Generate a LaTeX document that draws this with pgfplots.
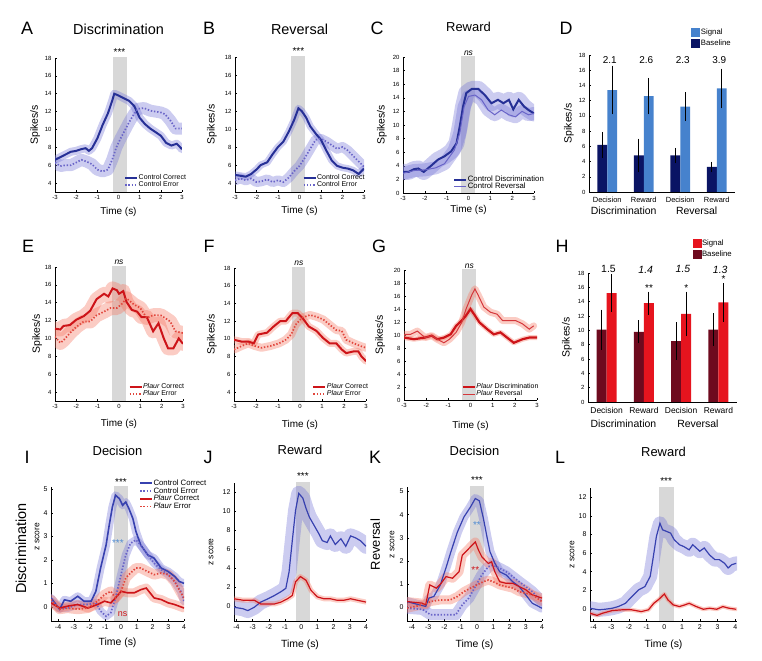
\documentclass[border=0pt]{standalone}
\usepackage{fontspec}
\setmainfont{Liberation Sans}
\usepackage{pgfplots}
\usepackage{pgfplotstable}
\pgfplotsset{compat=1.18}

\definecolor{cblue}{RGB}{38,48,150}
\definecolor{cbluez}{RGB}{55,65,175}
\definecolor{cdot}{RGB}{105,100,200}
\definecolor{cband}{RGB}{120,120,215}
\definecolor{pred}{RGB}{205,20,25}
\definecolor{pdot}{RGB}{225,70,60}
\definecolor{pband}{RGB}{245,120,100}
\definecolor{shadegray}{RGB}{216,216,216}
\definecolor{sigblue}{RGB}{70,130,205}
\definecolor{basenavy}{RGB}{10,20,100}
\definecolor{sigred}{RGB}{230,20,30}
\definecolor{basered}{RGB}{110,10,30}
\definecolor{starblue}{RGB}{80,140,210}

\pgfplotsset{
  panel/.style={scale only axis, anchor=south west, axis lines=left,
    axis line style={-, line width=0.6pt},
    tick align=inside, major tick length=2bp, tick style={black, line width=0.5pt},
    tick label style={font=\fontsize{6}{7}\selectfont},
    /pgf/number format/assume math mode=true,
    xlabel style={font=\fontsize{10}{11}\selectfont, at={(axis description cs:0.5,0)}, anchor=center},
    ylabel style={font=\fontsize{10.5}{11}\selectfont, anchor=center},
    title style={font=\fontsize{13}{14}\selectfont, at={(axis description cs:0.5,1)}, anchor=center},
    clip mode=individual,
    legend style={draw=none, fill=none, font=\fontsize{7}{7.5}\selectfont, nodes={inner sep=0.5pt}, row sep=-0.5pt, legend cell align=left},
    legend image code/.code={\draw[##1] (0bp,0bp) -- (12bp,0bp);},
  },
  ylab/.style={ylabel style={at={(axis description cs:#1,0.5)}}},
  ts/.style={xmin=-3, xmax=3, xtick={-3,...,3}, xlabel={Time (s)}},
  zs/.style={xtick={-4,...,4}, xlabel={Time (s)}, tick label style={font=\fontsize{7}{8}\selectfont},
    xlabel style={font=\fontsize{10.5}{11}\selectfont}, ylabel style={font=\fontsize{8.5}{9}\selectfont}},
  band/.style={line width=#1, draw opacity=0.38, forget plot, line join=round, line cap=round},
  dotsty/.style={dash pattern=on 1.4bp off 1.8bp},
}
\newcommand{\epoch}[2]{\addplot[fill=shadegray, draw=none, forget plot] coordinates {(#1,-100) (#2,-100) (#2,100) (#1,100)};}
\newcommand{\stars}[3]{\node[font=\fontsize{10}{10}\selectfont, anchor=south, inner sep=0pt] at (axis cs:#1,#2) {#3};}

% ---------------- data ----------------
\pgfplotstableread[row sep=\\]{x y\\ -3 6.6\\ -2.75 6.9\\ -2.5 7.2\\ -2.25 7.5\\ -2 7.6\\ -1.75 7.8\\ -1.55 7.9\\ -1.4 7.6\\ -1.25 7.9\\ -1 9.0\\ -0.75 10.5\\ -0.5 11.8\\ -0.3 13.2\\ -0.2 14.0\\ 0 13.8\\ 0.25 13.5\\ 0.5 13.2\\ 0.75 12.6\\ 1 11.3\\ 1.25 10.6\\ 1.5 10.1\\ 1.75 9.7\\ 2 9.3\\ 2.25 8.5\\ 2.5 8.2\\ 2.75 8.4\\ 3 7.8\\}\Acor
\pgfplotstableread[row sep=\\]{x y\\ -3 6.3\\ -2.75 5.9\\ -2.5 6.0\\ -2.25 6.0\\ -2 6.3\\ -1.75 6.6\\ -1.5 6.4\\ -1.25 6.1\\ -1 5.5\\ -0.75 5.3\\ -0.5 5.5\\ -0.3 6.6\\ -0.1 8.0\\ 0.1 9.0\\ 0.3 9.9\\ 0.5 10.8\\ 0.7 11.6\\ 0.9 12.3\\ 1.2 12.4\\ 1.5 12.1\\ 1.75 12.0\\ 2 11.9\\ 2.2 11.7\\ 2.45 11.0\\ 2.7 10.1\\ 3 10.1\\}\Aerr
\pgfplotstableread[row sep=\\]{x y\\ -3 4.9\\ -2.75 4.8\\ -2.5 4.7\\ -2.25 5.0\\ -2 5.5\\ -1.8 6.0\\ -1.5 6.3\\ -1.25 7.2\\ -1 8.0\\ -0.75 8.6\\ -0.5 9.7\\ -0.25 11.0\\ -0.05 12.3\\ 0.1 12.0\\ 0.3 11.3\\ 0.5 10.3\\ 0.75 9.5\\ 1 8.8\\ 1.25 7.6\\ 1.5 6.5\\ 1.75 5.9\\ 2 5.7\\ 2.25 5.6\\ 2.5 5.4\\ 2.75 5.0\\ 3 5.6\\}\Bcor
\pgfplotstableread[row sep=\\]{x y\\ -3 4.3\\ -2.75 4.5\\ -2.5 4.3\\ -2.25 4.5\\ -2 4.1\\ -1.75 4.2\\ -1.5 4.4\\ -1.25 4.1\\ -1 4.3\\ -0.75 4.1\\ -0.5 4.6\\ -0.25 5.3\\ 0 5.9\\ 0.25 6.8\\ 0.5 7.8\\ 0.75 8.8\\ 1 8.9\\ 1.25 8.6\\ 1.5 8.2\\ 1.75 7.8\\ 2 8.0\\ 2.25 7.6\\ 2.5 7.0\\ 2.75 6.4\\ 3 5.8\\}\Berr
\pgfplotstableread[row sep=\\]{x y\\ -3 3.1\\ -2.75 3.1\\ -2.5 3.5\\ -2.3 3.6\\ -2.05 3.1\\ -1.75 3.9\\ -1.4 4.9\\ -1.1 5.4\\ -0.8 6.1\\ -0.55 7.3\\ -0.4 9.8\\ -0.25 12.7\\ -0.1 14.7\\ 0.15 15.3\\ 0.45 15.3\\ 0.75 14.4\\ 1.05 13.2\\ 1.35 13.7\\ 1.6 13.2\\ 1.85 13.7\\ 2.05 12.3\\ 2.3 13.7\\ 2.55 12.7\\ 2.75 12.2\\ 3 11.7\\}\Cdis
\pgfplotstableread[row sep=\\]{x y\\ -3 2.9\\ -2.5 3.3\\ -2 3.4\\ -1.5 3.7\\ -1.1 4.3\\ -0.65 6.3\\ -0.4 8.8\\ -0.2 12.7\\ 0 14.2\\ 0.3 14.4\\ 0.6 13.7\\ 0.9 12.2\\ 1.2 11.5\\ 1.5 12.2\\ 1.85 11.5\\ 2.15 11.2\\ 2.45 12.0\\ 2.75 11.5\\ 3 11.7\\}\Crev
\pgfplotstableread[row sep=\\]{x y\\ -3 11.1\\ -2.75 11.0\\ -2.6 11.4\\ -2.3 11.5\\ -2 12.1\\ -1.65 12.5\\ -1.35 13.1\\ -1.05 14.4\\ -0.7 15.0\\ -0.5 14.7\\ -0.3 15.6\\ -0.1 15.4\\ 0 15.0\\ 0.2 15.3\\ 0.35 14.1\\ 0.6 13.2\\ 0.85 13.0\\ 1.05 12.4\\ 1.3 12.4\\ 1.6 10.8\\ 1.85 11.7\\ 2.1 10.0\\ 2.3 8.9\\ 2.55 8.9\\ 2.8 10.0\\ 3 9.4\\}\Ecor
\pgfplotstableread[row sep=\\]{x y\\ -3 10.2\\ -2.75 9.5\\ -2.6 9.8\\ -2.3 10.6\\ -2 11.3\\ -1.65 11.9\\ -1.35 11.9\\ -1.05 12.6\\ -0.7 13.0\\ -0.4 13.4\\ -0.1 13.4\\ 0.15 13.9\\ 0.35 14.5\\ 0.7 13.8\\ 1.0 13.4\\ 1.3 12.3\\ 1.6 12.6\\ 1.95 12.6\\ 2.15 12.3\\ 2.4 11.9\\ 2.65 10.8\\ 3 10.6\\}\Eerr
\pgfplotstableread[row sep=\\]{x y\\ -3 9.9\\ -2.65 9.7\\ -2.35 9.7\\ -2.1 9.5\\ -1.9 10.5\\ -1.5 10.7\\ -1.2 11.4\\ -0.9 12.0\\ -0.65 12.0\\ -0.35 12.9\\ -0.1 12.9\\ 0.1 12.4\\ 0.4 11.4\\ 0.75 10.9\\ 1.05 10.1\\ 1.35 9.5\\ 1.65 9.5\\ 1.9 8.8\\ 2.1 8.4\\ 2.45 8.6\\ 2.65 8.6\\ 2.8 8.0\\ 3 7.5\\}\Fcor
\pgfplotstableread[row sep=\\]{x y\\ -3 8.8\\ -2.65 9.2\\ -2.35 9.5\\ -2.05 9.2\\ -1.75 9.0\\ -1.35 9.2\\ -0.95 9.5\\ -0.65 9.9\\ -0.4 10.5\\ -0.2 11.6\\ 0.1 12.4\\ 0.45 12.7\\ 0.75 12.5\\ 1.05 12.2\\ 1.35 11.6\\ 1.65 11.0\\ 1.9 10.9\\ 2.1 9.9\\ 2.45 9.5\\ 2.75 9.2\\ 3 9.0\\}\Ferr
\pgfplotstableread[row sep=\\]{x y\\ -3 9.6\\ -2.55 9.35\\ -2.05 9.6\\ -1.75 9.9\\ -1.5 9.35\\ -1.2 9.6\\ -0.9 10.1\\ -0.65 11.4\\ -0.4 12.2\\ -0.2 13.0\\ 0 14.0\\ 0.2 13.0\\ 0.4 11.95\\ 0.75 10.9\\ 1.05 10.1\\ 1.35 10.4\\ 1.65 9.6\\ 1.95 8.8\\ 2.35 9.35\\ 2.65 9.6\\ 3 9.6\\}\Gdis
\pgfplotstableread[row sep=\\]{x y\\ -3 10.1\\ -2.7 10.1\\ -2.4 10.6\\ -2.05 9.6\\ -1.75 9.9\\ -1.5 9.35\\ -1.2 8.8\\ -0.95 9.35\\ -0.65 10.4\\ -0.4 11.9\\ -0.2 14.0\\ 0.05 16.1\\ 0.2 17.1\\ 0.35 16.1\\ 0.6 14.3\\ 0.9 13.5\\ 1.2 13.2\\ 1.45 12.2\\ 1.75 12.2\\ 2.05 12.2\\ 2.35 11.7\\ 2.65 10.9\\ 2.85 11.4\\}\Grev
\pgfplotstableread[row sep=\\]{x y\\ -4.45 0.38\\ -3.9 -0.1\\ -3.6 0.3\\ -3.2 0.24\\ -2.75 0.45\\ -2.35 0.24\\ -1.9 0.24\\ -1.6 0.66\\ -1.3 1.65\\ -0.95 2.63\\ -0.75 3.48\\ -0.55 4.25\\ -0.35 4.75\\ -0.1 4.6\\ 0.1 4.32\\ 0.3 4.46\\ 0.5 4.18\\ 0.75 3.76\\ 0.95 3.2\\ 1.25 2.63\\ 1.7 2.21\\ 2.1 2.07\\ 2.55 1.65\\ 3 1.5\\ 3.4 1.3\\ 3.7 1.08\\ 4 1.0\\}\Icc
\pgfplotstableread[row sep=\\]{x y\\ -4.45 0.24\\ -3.9 -0.05\\ -3.4 -0.05\\ -2.75 0.1\\ -2.1 0.1\\ -1.6 0.17\\ -1.3 -0.18\\ -0.95 -0.4\\ -0.65 -0.25\\ -0.35 0.38\\ 0 1.37\\ 0.3 2.21\\ 0.6 2.7\\ 0.95 2.85\\ 1.25 2.63\\ 1.7 2.21\\ 2.1 1.86\\ 2.55 1.58\\ 3 1.37\\ 3.4 1.08\\ 3.8 0.66\\ 4 0.24\\}\Ice
\pgfplotstableread[row sep=\\]{x y\\ -4.45 0.17\\ -3.9 -0.05\\ -3.4 0.03\\ -2.75 0.1\\ -2.1 -0.05\\ -1.5 0.1\\ -1.05 0.24\\ -0.65 0.17\\ -0.35 0.38\\ 0 0.66\\ 0.4 0.6\\ 0.85 0.6\\ 1.25 0.73\\ 1.6 0.8\\ 2.1 0.38\\ 2.55 0.31\\ 3 0.17\\ 3.4 0.1\\ 4 -0.05\\}\Ipc
\pgfplotstableread[row sep=\\]{x y\\ -4.45 0.31\\ -3.9 -0.1\\ -3.4 -0.05\\ -2.75 -0.1\\ -2.1 -0.05\\ -1.5 0.24\\ -1.05 0.52\\ -0.65 0.66\\ -0.35 0.38\\ 0 0.66\\ 0.3 1.23\\ 0.6 1.44\\ 0.95 1.65\\ 1.25 1.65\\ 1.7 1.5\\ 2.1 1.37\\ 2.55 1.44\\ 3 1.37\\ 3.4 1.08\\ 3.8 0.6\\ 4 0.38\\}\Ipe
\pgfplotstableread[row sep=\\]{x y\\ -4.15 -0.15\\ -3.6 -0.3\\ -3.3 -0.5\\ -2.9 -0.15\\ -2.5 0.4\\ -2.05 0.75\\ -1.65 1.1\\ -1.25 1.5\\ -0.95 1.85\\ -0.75 3.6\\ -0.55 6.9\\ -0.35 10.1\\ -0.15 11.9\\ 0.1 11.4\\ 0.3 10.3\\ 0.5 9.4\\ 0.8 8.5\\ 1.1 7.6\\ 1.3 6.9\\ 1.6 6.7\\ 1.8 7.4\\ 2.1 6.5\\ 2.45 7.1\\ 2.75 6.3\\ 3.05 7.4\\ 3.35 7.2\\ 3.65 6.9\\ 4 6.3\\}\Jb
\pgfplotstableread[row sep=\\]{x y\\ -4.15 0.75\\ -3.6 0.6\\ -3.3 0.6\\ -2.9 0.6\\ -2.5 0.2\\ -2.05 0.2\\ -1.65 0.2\\ -1.25 0.4\\ -0.85 0.75\\ -0.55 1.1\\ -0.35 2.55\\ -0.05 3.1\\ 0.3 2.7\\ 0.6 1.65\\ 1.0 0.95\\ 1.4 0.75\\ 1.8 0.75\\ 2.2 0.6\\ 2.65 0.6\\ 3.05 0.75\\ 3.45 0.6\\ 4 0.4\\}\Jr
\pgfplotstableread[row sep=\\]{x y\\ -4.3 0.24\\ -3.55 0.1\\ -3.15 0.03\\ -2.95 0.39\\ -2.65 0.46\\ -2.25 0.96\\ -1.85 1.82\\ -1.6 2.4\\ -1.2 3.25\\ -0.8 3.9\\ -0.4 4.33\\ -0.1 4.7\\ 0.15 4.6\\ 0.4 3.83\\ 0.6 3.1\\ 0.8 2.4\\ 1.1 1.9\\ 1.4 1.53\\ 1.8 1.39\\ 2.2 1.1\\ 2.6 0.89\\ 3.0 0.53\\ 3.4 0.17\\ 4 -0.05\\}\Kcc
\pgfplotstableread[row sep=\\]{x y\\ -4.3 -0.05\\ -3.35 -0.1\\ -2.85 -0.33\\ -2.25 -0.33\\ -1.65 -0.33\\ -1.3 -0.33\\ -0.9 0.1\\ -0.5 0.39\\ -0.1 0.89\\ 0.3 1.39\\ 0.7 1.75\\ 1.0 1.82\\ 1.4 1.68\\ 1.8 1.53\\ 2.2 1.32\\ 2.6 1.1\\ 3.0 0.89\\ 3.4 0.67\\ 4 0.24\\}\Kce
\pgfplotstableread[row sep=\\]{x y\\ -4.3 0.24\\ -3.35 0.17\\ -3.15 0.1\\ -2.9 0.96\\ -2.5 0.82\\ -2.2 1.03\\ -1.9 1.32\\ -1.5 1.25\\ -1.1 1.53\\ -0.9 2.25\\ -0.6 2.46\\ -0.3 2.68\\ -0.1 2.82\\ 0.1 2.46\\ 0.3 2.18\\ 0.5 2.03\\ 0.7 1.89\\ 0.9 1.96\\ 1.1 1.53\\ 1.4 1.1\\ 1.8 1.03\\ 2.2 1.03\\ 2.6 0.89\\ 3.0 0.75\\ 3.4 0.53\\ 4 0.39\\}\Kpc
\pgfplotstableread[row sep=\\]{x y\\ -4.3 -0.05\\ -3.35 0.1\\ -2.85 0.24\\ -2.25 0.31\\ -1.65 0.31\\ -1.2 0.46\\ -0.8 0.67\\ -0.4 0.82\\ 0.0 0.96\\ 0.4 1.1\\ 0.7 1.17\\ 1.0 1.1\\ 1.4 0.96\\ 1.8 0.89\\ 2.2 0.82\\ 2.6 0.67\\ 3.0 0.6\\ 3.4 0.53\\ 4 0.24\\}\Kpe
\pgfplotstableread[row sep=\\]{x y\\ -4.2 0.07\\ -3.7 -0.1\\ -3.35 -0.04\\ -2.95 0.07\\ -2.6 0.25\\ -2.2 0.6\\ -1.85 1.3\\ -1.45 2.05\\ -1.1 2.4\\ -0.8 3.5\\ -0.65 5.3\\ -0.45 7.8\\ -0.25 9.2\\ -0.1 8.5\\ 0.1 8.35\\ 0.35 8.15\\ 0.55 7.45\\ 0.85 6.9\\ 1.1 6.7\\ 1.4 6.35\\ 1.6 6.9\\ 1.8 6.55\\ 2.0 6.2\\ 2.25 6.55\\ 2.55 5.8\\ 2.85 5.3\\ 3.1 5.3\\ 3.4 4.9\\ 3.6 4.4\\ 3.8 4.75\\ 4.05 4.9\\}\Lb
\pgfplotstableread[row sep=\\]{x y\\ -4.2 -0.47\\ -3.8 -0.7\\ -3.5 -0.47\\ -2.95 -0.18\\ -2.4 -0.1\\ -1.85 -0.1\\ -1.3 -0.29\\ -0.9 -0.1\\ -0.6 0.6\\ -0.35 0.97\\ 0 1.6\\ 0.2 0.97\\ 0.5 0.43\\ 0.85 0.25\\ 1.15 0.43\\ 1.4 0.6\\ 1.8 0.25\\ 2.2 -0.04\\ 2.55 0.07\\ 2.95 -0.04\\ 3.3 0.25\\ 3.65 0.07\\ 4.05 -0.04\\}\Lr

\begin{document}
\begin{tikzpicture}
\path[use as bounding box] (0,0) rectangle (762bp,661bp);

% panel letters
\begin{scope}[every node/.style={font=\fontsize{18}{18}\selectfont, inner sep=0pt}]
\node at (27bp,633bp) {A};
\node at (209bp,633bp) {B};
\node at (377bp,633bp) {C};
\node at (566bp,633bp) {D};
\node at (28bp,415bp) {E};
\node at (209bp,415bp) {F};
\node at (379bp,415bp) {G};
\node at (562bp,415bp) {H};
\node at (27bp,204bp) {I};
\node at (208bp,204bp) {J};
\node at (375bp,204bp) {K};
\node at (560bp,204bp) {L};
\end{scope}

% ---------- A ----------
\begin{axis}[panel, ts, at={(55bp,469bp)}, width=127bp, height=134bp, ymin=3, ymax=18, ytick={4,6,...,18},
  ylabel={Spikes/s}, ylab=-0.157, xlabel style={yshift=-20bp},
  title={Discrimination}, title style={yshift=23bp, font=\fontsize{14.5}{15}\selectfont},
  legend style={at={(axis description cs:0.52,0.01)}, anchor=south west}]
\epoch{-0.27}{0.38}
\addplot[cband, band=8bp] table {\Acor};
\addplot[cband, band=12bp] table {\Aerr};
\addplot[cblue, line width=2bp] table {\Acor};
\addplot[cdot, line width=1.7bp, dotsty] table {\Aerr};
\legend{Control Correct, Control Error}
\stars{0.05}{18.3}{***}
\end{axis}

% ---------- B ----------
\begin{axis}[panel, ts, at={(235bp,469bp)}, width=129bp, height=135bp, ymin=3, ymax=18, ytick={4,6,...,18},
  ylabel={Spikes/s}, ylab=-0.178, xlabel style={yshift=-19bp},
  title={Reversal}, title style={yshift=22bp, font=\fontsize{14.5}{15}\selectfont},
  legend style={at={(axis description cs:0.5,0.01)}, anchor=south west}]
\epoch{-0.38}{0.27}
\addplot[cband, band=7bp] table {\Bcor};
\addplot[cband, band=10bp] table {\Berr};
\addplot[cblue, line width=2bp] table {\Bcor};
\addplot[cdot, line width=1.7bp, dotsty] table {\Berr};
\legend{Control Correct, Control Error}
\stars{-0.05}{18.3}{***}
\end{axis}

% ---------- C ----------
\begin{axis}[panel, ts, at={(403bp,468bp)}, width=131bp, height=136bp, ymin=0, ymax=20, ytick={0,2,...,20},
  ylabel={Spikes/s}, ylab=-0.16, xlabel style={yshift=-17bp},
  title={Reward}, title style={yshift=24bp},
  legend style={at={(axis description cs:0.36,0.0)}, anchor=south west, font=\fontsize{7.8}{8}\selectfont, row sep=-1pt}]
\epoch{-0.33}{0.32}
\addplot[cband, band=16bp] table {\Cdis};
\addplot[cband, band=13bp] table {\Crev};
\addplot[cblue, line width=2bp] table {\Cdis};
\addplot[cdot, line width=1bp] table {\Crev};
\legend{Control Discrimination, Control Reversal}
\node[font=\fontsize{8.5}{9}\selectfont\itshape, anchor=south, inner sep=0pt] at (axis cs:0,20.2) {ns};
\end{axis}

% ---------- D ----------
\begin{axis}[panel, at={(589bp,469bp)}, width=146bp, height=137bp, xmin=0.5, xmax=4.5, ymin=0, ymax=18, ytick={0,2,...,18},
  xtick={1,2,3,4}, xticklabels={Decision,Reward,Decision,Reward}, xtick style={draw=none},
  xticklabel style={font=\fontsize{7.5}{8}\selectfont},
  ylabel={Spikes/s}, ylab=-0.137,
  ybar=0pt, bar width=0.27,
  error bars/y dir=both, error bars/y explicit, error bars/error mark=none,
  error bars/error bar style={black, line width=1.1bp},
  legend image code/.code={\fill[#1] (0bp,-4.5bp) rectangle (9bp,4.5bp);},
  legend style={at={(axis description cs:0.68,1.21)}, anchor=north west, font=\fontsize{7.8}{8}\selectfont, row sep=2pt},
  reverse legend]
\addplot[fill=basenavy, draw=none, bar shift=-0.135] coordinates {(1,6.2) +- (0,1.7) (2,4.8) +- (0,2.2) (3,4.8) +- (0,1.0) (4,3.3) +- (0,0.7)};
\addplot[fill=sigblue, draw=none, bar shift=0.135] coordinates {(1,13.4) +- (0,3.2) (2,12.6) +- (0,2.4) (3,11.2) +- (0,1.9) (4,13.6) +- (0,2.6)};
\legend{Baseline, Signal}
\begin{scope}[every node/.style={font=\fontsize{10}{11}\selectfont, inner sep=0pt}]
\node at (axis cs:1.07,17.3) {2.1};
\node at (axis cs:2.07,17.3) {2.6};
\node at (axis cs:3.07,17.3) {2.3};
\node at (axis cs:4.07,17.3) {3.9};
\node[font=\fontsize{10.5}{11}\selectfont] at (axis cs:1.45,0) [yshift=-19bp] {Discrimination};
\node[font=\fontsize{10.5}{11}\selectfont] at (axis cs:3.45,0) [yshift=-19bp] {Reversal};
\end{scope}
\end{axis}

% ---------- E ----------
\begin{axis}[panel, ts, at={(55bp,260bp)}, width=128bp, height=134bp, ymin=3, ymax=18, ytick={4,6,...,18},
  ylabel={Spikes/s}, ylab=-0.14, xlabel style={yshift=-23bp},
  legend style={at={(axis description cs:0.55,0.01)}, anchor=south west}]
\epoch{-0.34}{0.34}
\addplot[pband, band=14bp] table {\Ecor};
\addplot[pband, band=14bp] table {\Eerr};
\addplot[pred, line width=2bp] table {\Ecor};
\addplot[pdot, line width=1.7bp, dotsty] table {\Eerr};
\legend{{\itshape Plaur} Correct, {\itshape Plaur} Error}
\node[font=\fontsize{8.5}{9}\selectfont\itshape, anchor=south, inner sep=0pt] at (axis cs:0,18.2) {ns};
\end{axis}

% ---------- F ----------
\begin{axis}[panel, ts, at={(234bp,260bp)}, width=132bp, height=133bp, ymin=3, ymax=18, ytick={4,6,...,18},
  ylabel={Spikes/s}, ylab=-0.167, xlabel style={yshift=-24bp},
  legend style={at={(axis description cs:0.57,0.01)}, anchor=south west}]
\epoch{-0.35}{0.25}
\addplot[pband, band=7bp] table {\Fcor};
\addplot[pband, band=8bp] table {\Ferr};
\addplot[pred, line width=2bp] table {\Fcor};
\addplot[pdot, line width=1.7bp, dotsty] table {\Ferr};
\legend{{\itshape Plaur} Correct, {\itshape Plaur} Error}
\node[font=\fontsize{8.5}{9}\selectfont\itshape, anchor=south, inner sep=0pt] at (axis cs:-0.05,18.2) {ns};
\end{axis}

% ---------- G ----------
\begin{axis}[panel, ts, at={(404bp,261bp)}, width=133bp, height=130bp, ymin=0, ymax=20, ytick={0,2,...,20},
  ylabel={Spikes/s}, ylab=-0.18, xlabel style={yshift=-26bp},
  legend style={at={(axis description cs:0.41,0.0)}, anchor=south west}]
\epoch{-0.38}{0.27}
\addplot[pband, band=5bp] table {\Gdis};
\addplot[pband, band=7bp] table {\Grev};
\addplot[pred, line width=2.2bp] table {\Gdis};
\addplot[pred!85!white, line width=1bp] table {\Grev};
\legend{{\itshape Plaur} Discrimination, {\itshape Plaur} Reversal}
\node[font=\fontsize{8.5}{9}\selectfont\itshape, anchor=south, inner sep=0pt] at (axis cs:-0.05,20.2) {ns};
\end{axis}

% ---------- H ----------
\begin{axis}[panel, at={(588bp,259bp)}, width=149bp, height=129bp, xmin=0.5, xmax=4.5, ymin=0, ymax=18, ytick={0,2,...,18},
  xtick={1,2,3,4}, xticklabels={Decision,Reward,Decision,Reward}, xtick style={draw=none},
  xticklabel style={font=\fontsize{8.5}{9}\selectfont},
  ylabel={Spikes/s}, ylab=-0.141,
  ybar=0pt, bar width=0.27,
  error bars/y dir=both, error bars/y explicit, error bars/error mark=none,
  error bars/error bar style={black, line width=1.1bp},
  legend image code/.code={\fill[#1] (0bp,-4.5bp) rectangle (9bp,4.5bp);},
  legend style={at={(axis description cs:0.68,1.28)}, anchor=north west, font=\fontsize{7.8}{8}\selectfont, row sep=2pt},
  reverse legend]
\addplot[fill=basered, draw=none, bar shift=-0.135] coordinates {(1,10.1) +- (0,2.8) (2,9.8) +- (0,1.6) (3,8.5) +- (0,2.6) (4,10.1) +- (0,2.3)};
\addplot[fill=sigred, draw=none, bar shift=0.135] coordinates {(1,15.2) +- (0,2.6) (2,13.8) +- (0,1.6) (3,12.3) +- (0,3.1) (4,13.9) +- (0,2.7)};
\legend{Baseline, Signal}
\begin{scope}[every node/.style={font=\fontsize{10.5}{11}\selectfont, inner sep=0pt}]
\node at (axis cs:1.05,18.5) {1.5};
\node at (axis cs:2.05,18.5) {\itshape 1.4};
\node at (axis cs:3.05,18.5) {\itshape 1.5};
\node at (axis cs:4.05,18.5) {\itshape 1.3};
\node[font=\fontsize{10}{10}\selectfont] at (axis cs:2.14,15.9) {**};
\node[font=\fontsize{10}{10}\selectfont] at (axis cs:3.14,15.9) {*};
\node[font=\fontsize{10}{10}\selectfont] at (axis cs:4.14,17.1) {*};
\node[font=\fontsize{10.5}{11}\selectfont] at (axis cs:1.45,0) [yshift=-22bp] {Discrimination};
\node[font=\fontsize{10.5}{11}\selectfont] at (axis cs:3.45,0) [yshift=-22bp] {Reversal};
\end{scope}
\end{axis}

% ---------- I ----------
\begin{axis}[panel, zs, at={(51bp,40bp)}, width=133bp, height=134bp, xmin=-4.45, xmax=4.0, ymin=-0.6, ymax=5.1, ytick={0,...,5},
  ylabel={z score}, ylabel style={at={(axis description cs:-0.105,0.63)}}, xlabel style={yshift=-22bp},
  title={Decision}, title style={yshift=30bp},
  legend style={at={(axis description cs:0.64,1.075)}, anchor=north west, font=\fontsize{7.8}{8}\selectfont, row sep=-0.3pt}]
\epoch{-0.45}{0.42}
\addplot[cband, band=8bp] table {\Icc};
\addplot[cband, band=8bp] table {\Ice};
\addplot[pband, band=9bp] table {\Ipc};
\addplot[pband, band=10bp] table {\Ipe};
\addplot[cbluez, line width=1.6bp] table {\Icc};
\addplot[cdot, line width=1.7bp, dotsty] table {\Ice};
\addplot[pred, line width=1.6bp] table {\Ipc};
\addplot[pdot, line width=1.7bp, dotsty] table {\Ipe};
\legend{Control Correct, Control Error, {\itshape Plaur} Correct, {\itshape Plaur} Error}
\stars{0}{5.15}{***}
\node[font=\fontsize{10}{10}\selectfont, text=starblue] at (axis cs:-0.2,2.72) {***};
\node[font=\fontsize{9}{9}\selectfont, text=pred] at (axis cs:0.1,-0.3) {ns};
\node[font=\fontsize{14.5}{15}\selectfont, rotate=90] at (axis description cs:-0.225,0.54) {Discrimination};
\end{axis}

% ---------- J ----------
\begin{axis}[panel, zs, at={(234bp,40bp)}, width=132bp, height=138bp, xmin=-4.15, xmax=4.0, ymin=-1.6, ymax=13, ytick={0,2,...,12},
  ylabel={z score}, ylab=-0.174, xlabel style={yshift=-24bp},
  title={Reward}, title style={yshift=27bp}]
\epoch{-0.32}{0.55}
\addplot[cband, band=15bp] table {\Jb};
\addplot[pband, band=5bp] table {\Jr};
\addplot[cbluez, line width=1.2bp] table {\Jb};
\addplot[pred, line width=1.2bp] table {\Jr};
\stars{0.1}{13.3}{***}
\end{axis}

% ---------- K ----------
\begin{axis}[panel, zs, at={(407bp,40bp)}, width=135bp, height=134bp, xmin=-4.3, xmax=4.0, ymin=-0.6, ymax=5.2, ytick={0,...,5},
  ylabel={z score}, ylabel style={at={(axis description cs:-0.11,0.57)}}, xlabel style={yshift=-24bp},
  title={Decision}, title style={yshift=30bp}]
\epoch{-0.4}{0.46}
\addplot[cband, band=9bp] table {\Kcc};
\addplot[cband, band=11bp] table {\Kce};
\addplot[pband, band=9bp] table {\Kpc};
\addplot[pband, band=9bp] table {\Kpe};
\addplot[cbluez, line width=1.2bp] table {\Kcc};
\addplot[cdot, line width=1.7bp, dotsty] table {\Kce};
\addplot[pred, line width=1.2bp] table {\Kpc};
\addplot[pdot, line width=1.7bp, dotsty] table {\Kpe};
\stars{0}{5.35}{***}
\node[font=\fontsize{10}{10}\selectfont, text=starblue] at (axis cs:0,3.55) {**};
\node[font=\fontsize{10}{10}\selectfont, text=pred] at (axis cs:-0.1,1.62) {**};
\node[font=\fontsize{13}{14}\selectfont, rotate=90] at (axis description cs:-0.235,0.57) {Reversal};
\end{axis}

% ---------- L ----------
\begin{axis}[panel, zs, at={(590bp,40bp)}, width=147bp, height=133bp, xmin=-4.2, xmax=4.1, ymin=-1.3, ymax=13, ytick={0,2,...,12},
  ylabel={z score}, ylab=-0.122, xlabel style={yshift=-24bp},
  title={Reward}, title style={yshift=30bp}]
\epoch{-0.31}{0.57}
\addplot[cband, band=14bp] table {\Lb};
\addplot[pband, band=4bp] table {\Lr};
\addplot[cbluez, line width=1.2bp] table {\Lb};
\addplot[pred, line width=1.2bp] table {\Lr};
\stars{0.1}{13.3}{***}
\end{axis}

\end{tikzpicture}
\end{document}
